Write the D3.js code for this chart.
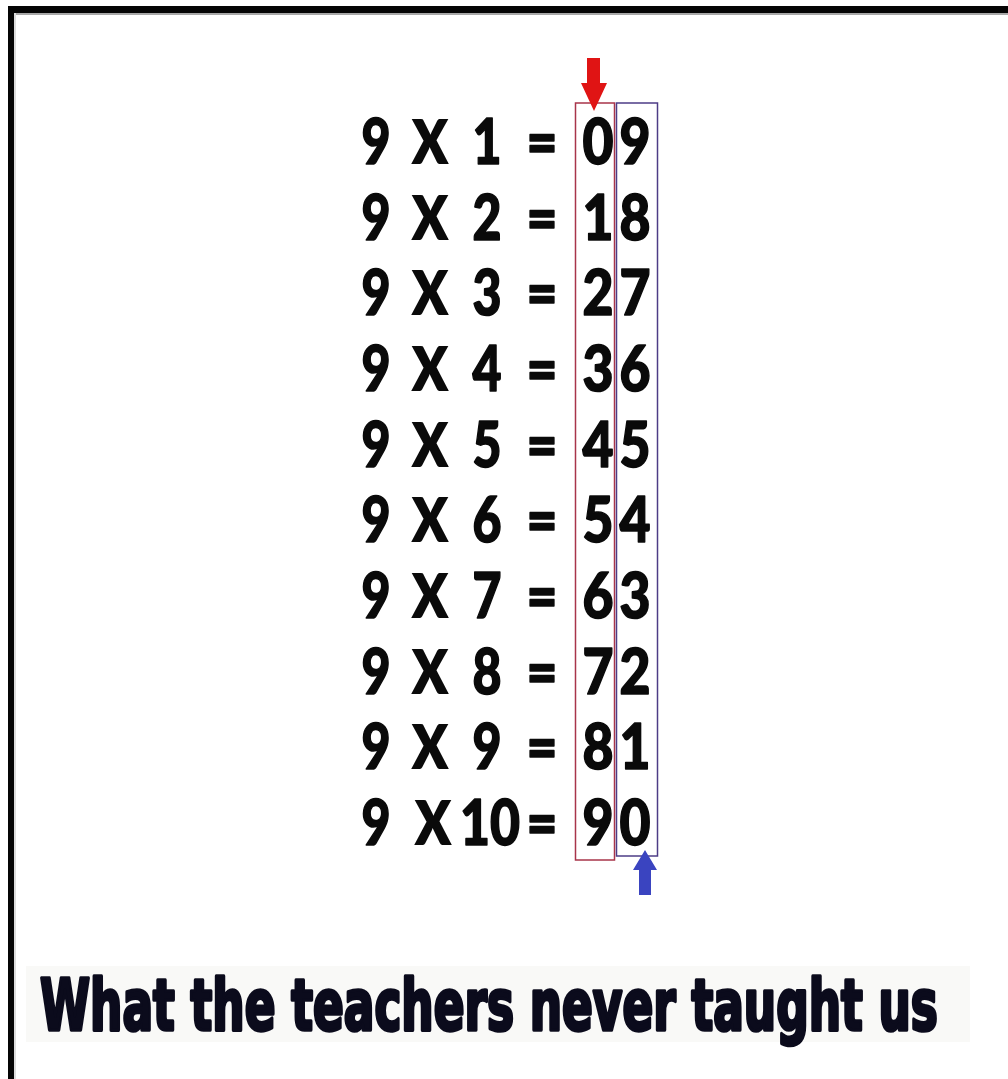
<!DOCTYPE html>
<html><head><meta charset="utf-8">
<script src="https://cdn.jsdelivr.net/npm/d3@7"></script>
<style>html,body{margin:0;padding:0;background:#fff;}svg{display:block;}</style>
</head><body>
<script>
const multiplicand = ["9","9","9","9","9","9","9","9","9","9"];
const multipliers = ["1","2","3","4","5","6","7","8","9","10"];
const tensDigits = ["0","1","2","3","4","5","6","7","8","9"];
const unitDigits = ["9","8","7","6","5","4","3","2","1","0"];
const caption = "What the teachers never taught us";

const W = 1008, H = 1079;
const svg = d3.select("body").append("svg").attr("width", W).attr("height", H);
svg.append("rect").attr("width", W).attr("height", H).attr("fill", "#fff");

// frame (top + left black bars)
svg.append("rect").attr("x", 8).attr("y", 6).attr("width", W).attr("height", 7).attr("fill", "#050505");
svg.append("rect").attr("x", 8).attr("y", 6).attr("width", 6).attr("height", H).attr("fill", "#050505");
svg.append("rect").attr("x", 14).attr("y", 13).attr("width", W).attr("height", 2).attr("fill", "#a8a8a8");
svg.append("rect").attr("x", 14).attr("y", 13).attr("width", 2).attr("height", H).attr("fill", "#dcdcdc");

const rows = d3.range(multipliers.length);
const y = d3.scalePoint().domain(rows).range([164, 845]);

const font = "'Lato', 'Open Sans', 'DejaVu Sans', sans-serif";
const g = svg.append("g").attr("font-family", font).attr("font-weight", 900)
  .attr("fill", "#0a0a0a").attr("text-anchor", "middle");
const gd = g.append("g").attr("stroke", "#0a0a0a").attr("stroke-width", 1.6).attr("stroke-linejoin", "round");

function col(values, xf, size, widthf) {
  gd.selectAll(null).data(rows).join("text")
    .attr("x", d => typeof xf === "function" ? xf(d) : xf)
    .attr("y", d => y(d))
    .attr("font-size", size)
    .attr("textLength", d => typeof widthf === "function" ? widthf(d) : widthf)
    .attr("lengthAdjust", "spacingAndGlyphs")
    .text(d => values[d]);
}
col(multiplicand, 376, 63, 29);
// "x" drawn as tall as the digits
g.selectAll(null).data(rows).join("text")
  .attr("transform", d => `translate(${multipliers[d].length > 1 ? 433 : 430},${y(d)}) scale(1.12,1.38)`)
  .attr("font-size", 63)
  .text("x");
col(multipliers, d => multipliers[d].length > 1 ? 490 : 487, 63, d => multipliers[d].length > 1 ? 60 : 29);
gd.selectAll(null).data(rows).join("text")
  .attr("x", 542).attr("y", d => y(d)).attr("font-size", 63)
  .attr("textLength", 31).attr("lengthAdjust", "spacingAndGlyphs").text("=");
col(tensDigits, 598, 63, 31);
col(unitDigits, 635, 63, 31);

// boxes
const yTop = 103;
svg.append("rect").attr("x", 575.5).attr("y", yTop).attr("width", 39).attr("height", 757)
  .attr("fill", "none").attr("stroke", "#a8344a").attr("stroke-width", 1.5);
svg.append("rect").attr("x", 616.5).attr("y", yTop).attr("width", 41).attr("height", 753)
  .attr("fill", "none").attr("stroke", "#4d3c86").attr("stroke-width", 1.5);

// red arrow (down)
svg.append("path")
  .attr("d", "M587,58 L600,58 L600,83 L607,83 L594,111 L581,83 L587,83 Z")
  .attr("fill", "#e01414");
// blue arrow (up)
svg.append("path")
  .attr("d", "M645,850 L657,870 L651,870 L651,895 L639,895 L639,870 L633,870 Z")
  .attr("fill", "#3a44c0");

// caption
svg.append("rect").attr("x", 26).attr("y", 966).attr("width", 944).attr("height", 76).attr("fill", "#f9f9f7");
const cap = svg.append("text")
  .attr("font-family", "'Liberation Sans Narrow', 'DejaVu Sans Condensed', 'Liberation Sans', sans-serif")
  .attr("font-weight", 700)
  .attr("font-size", 64)
  .attr("fill", "#0b0b1c")
  .attr("stroke", "#0b0b1c").attr("stroke-width", 3.2).attr("stroke-linejoin", "round")
  .text(caption);
const natural = cap.node().getComputedTextLength();
cap.attr("transform", `translate(40,1030) scale(${898 / natural},1.1)`);
</script>
</body></html>
